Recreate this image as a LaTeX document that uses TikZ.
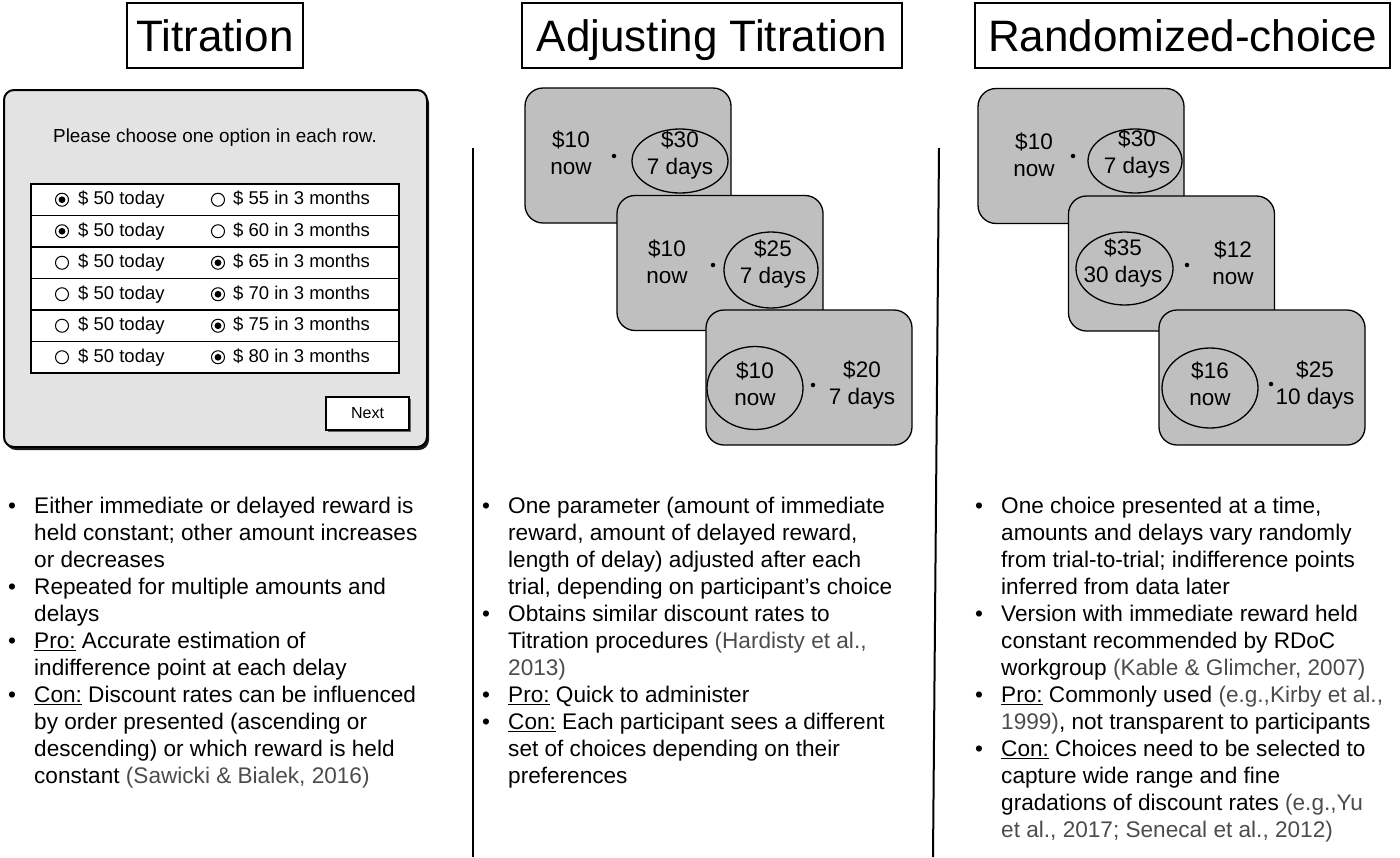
\documentclass[tikz,border=0pt]{standalone}
\usepackage{fontspec}
\setmainfont{Liberation Sans}
\usetikzlibrary{shapes,shadows,positioning}

\newcommand{\litref}[1]{\textcolor{black!70}{#1}}

\begin{document}
\begin{tikzpicture}[x=1pt, y=-1pt]
			\tikzstyle{Heading} = [draw, line width=1.3pt, inner sep=0pt, minimum height=65pt, text height=32pt, text depth=0pt, font=\fontsize{44}{50}\selectfont]
			\tikzstyle{Screen}  = [draw, line width=2pt, fill=black!11, rounded corners=10pt, minimum width=423pt, minimum height=357pt, drop shadow={shadow xshift=2pt, shadow yshift=-3pt, fill=black, opacity=0.9}]
			\tikzstyle{Row}     = [draw, line width=1.2pt, fill=white, minimum width=368pt, minimum height=31.5pt, inner sep=0pt]
			\tikzstyle{Radio}   = [circle, draw, line width=1pt, fill=white, minimum size=13pt, inner sep=0pt]
			\tikzstyle{Picked}  = [Radio, path picture={\fill[black] (path picture bounding box.center) circle (3.4pt);}]
			\tikzstyle{Option}  = [inner sep=0pt, text height=13.5pt, text depth=4pt, font=\fontsize{18.5}{22}\selectfont]
			\tikzstyle{Button}  = [draw, line width=1.5pt, fill=white, minimum width=83pt, minimum height=33pt, font=\fontsize{16}{19}\selectfont, drop shadow={shadow xshift=1.5pt, shadow yshift=-1.5pt, fill=black!60, opacity=1}]
			\tikzstyle{Card}    = [draw, line width=1.3pt, fill=black!25, rounded corners=18pt, minimum width=206pt, minimum height=135pt, inner sep=0pt]
			\tikzstyle{Amount}  = [align=center, inner sep=0pt, font=\fontsize{22.5}{26.5}\selectfont]
			\tikzstyle{Ring}    = [ellipse, draw, line width=1.3pt, inner sep=0pt]
			\tikzstyle{Dot}     = [circle, fill, inner sep=0pt, minimum size=4.5pt]
			\tikzstyle{Notes}   = [anchor=north west, inner sep=0pt, font=\fontsize{22.6}{27}\selectfont]
			\tikzstyle{Divider} = [line width=2pt]

			\useasboundingbox (0,0) rectangle (1400,857);

			\node (tit) at (215,35.5) [Heading, minimum width=176pt] {Titration};
			\node (adj) at (712,35.5) [Heading, minimum width=380pt] {Adjusting Titration};
			\node (rnd) at (1182.5,35.5) [Heading, minimum width=415pt] {Randomized-choice};

			\draw [Divider] (473,148) -- (473,857);
			\draw [Divider] (939,148) -- (933,857);

			\node (screen) at (215.5,268.5) [Screen] {};
			\node (ask) at (215,138) [Option, font=\fontsize{18.9}{22}\selectfont] {Please choose one option in each row.};
			\foreach \i/\later/\lpick/\rpick in {1/55/Picked/Radio, 2/60/Picked/Radio, 3/65/Radio/Picked, 4/70/Radio/Picked, 5/75/Radio/Picked, 6/80/Radio/Picked}{
				\node (row\i) at (215,168.25+31.5*\i) [Row] {};
				\node (now\i) at (62,168.25+31.5*\i) [\lpick] {};
				\node (nowtxt\i) [Option, right=9pt of now\i] {\$ 50 today};
				\node (late\i) at (218,168.25+31.5*\i) [\rpick] {};
				\node (latetxt\i) [Option, right=8pt of late\i] {\$ \later{} in 3 months};
			}
			\node (next) at (367.5,413.5) [Button] {Next};

			\node (adj1) at (628,155.5) [Card] {};
			\node (adj1ring) at (680,161) [Ring, minimum width=96pt, minimum height=64pt] {};
			\node (adj1now) at (571,153) [Amount] {\$10\\now};
			\node (adj1dot) at (614,156) [Dot] {};
			\node (adj1late) at (680,155) [Amount] {\$30\\7 days};

			\node (adj2) at (720,263) [Card] {};
			\node (adj2ring) at (771,270) [Ring, minimum width=94pt, minimum height=76pt] {};
			\node (adj2now) at (667,262) [Amount] {\$10\\now};
			\node (adj2dot) at (713,265) [Dot] {};
			\node (adj2late) at (773,264) [Amount] {\$25\\7 days};

			\node (adj3) at (809,377.5) [Card] {};
			\node (adj3ring) at (755,388) [Ring, minimum width=96pt, minimum height=83pt] {};
			\node (adj3now) at (755,384) [Amount] {\$10\\now};
			\node (adj3dot) at (813,385) [Dot] {};
			\node (adj3late) at (862,385) [Amount] {\$20\\7 days};

			\node (rnd1) at (1081,156) [Card] {};
			\node (rnd1ring) at (1135,161) [Ring, minimum width=94pt, minimum height=64pt] {};
			\node (rnd1now) at (1034,155) [Amount] {\$10\\now};
			\node (rnd1dot) at (1073,156) [Dot] {};
			\node (rnd1late) at (1137,154) [Amount] {\$30\\7 days};

			\node (rnd2) at (1171.5,263.5) [Card] {};
			\node (rnd2ring) at (1124.5,268.5) [Ring, minimum width=97pt, minimum height=73pt] {};
			\node (rnd2late) at (1123,263) [Amount] {\$35\\30 days};
			\node (rnd2dot) at (1187,265) [Dot] {};
			\node (rnd2now) at (1233,263) [Amount] {\$12\\now};

			\node (rnd3) at (1262,377.5) [Card] {};
			\node (rnd3ring) at (1210,388) [Ring, minimum width=96pt, minimum height=80pt] {};
			\node (rnd3now) at (1210,384) [Amount] {\$16\\now};
			\node (rnd3dot) at (1271,384) [Dot] {};
			\node (rnd3late) at (1315,385) [Amount] {\$25\\10 days};

			\node (titnotes) at (8,494) [Notes] {\begin{tabular}{@{}p{26pt}@{}l@{}}
				\textbullet & Either immediate or delayed reward is\\
				& held constant; other amount increases\\
				& or decreases\\
				\textbullet & Repeated for multiple amounts and\\
				& delays\\
				\textbullet & \underline{Pro:} Accurate estimation of\\
				& indifference point at each delay\\
				\textbullet & \underline{Con:} Discount rates can be influenced\\
				& by order presented (ascending or\\
				& descending) or which reward is held\\
				& constant \litref{(Sawicki \& Bialek, 2016)}
			\end{tabular}};

			\node (adjnotes) at (482,494) [Notes] {\begin{tabular}{@{}p{26pt}@{}l@{}}
				\textbullet & One parameter (amount of immediate\\
				& reward, amount of delayed reward,\\
				& length of delay) adjusted after each\\
				& trial, depending on participant’s choice\\
				\textbullet & Obtains similar discount rates to\\
				& Titration procedures \litref{(Hardisty et al.,}\\
				& \litref{2013)}\\
				\textbullet & \underline{Pro:} Quick to administer\\
				\textbullet & \underline{Con:} Each participant sees a different\\
				& set of choices depending on their\\
				& preferences
			\end{tabular}};

			\node (rndnotes) at (975,494) [Notes] {\begin{tabular}{@{}p{26pt}@{}l@{}}
				\textbullet & One choice presented at a time,\\
				& amounts and delays vary randomly\\
				& from trial-to-trial; indifference points\\
				& inferred from data later\\
				\textbullet & Version with immediate reward held\\
				& constant recommended by RDoC\\
				& workgroup \litref{(Kable \& Glimcher, 2007)}\\
				\textbullet & \underline{Pro:} Commonly used \litref{(e.g.,Kirby et al.,}\\
				& \litref{1999)}, not transparent to participants\\
				\textbullet & \underline{Con:} Choices need to be selected to\\
				& capture wide range and fine\\
				& gradations of discount rates \litref{(e.g.,Yu}\\
				& \litref{et al., 2017; Senecal et al., 2012)}
			\end{tabular}};
		\end{tikzpicture}
\end{document}
